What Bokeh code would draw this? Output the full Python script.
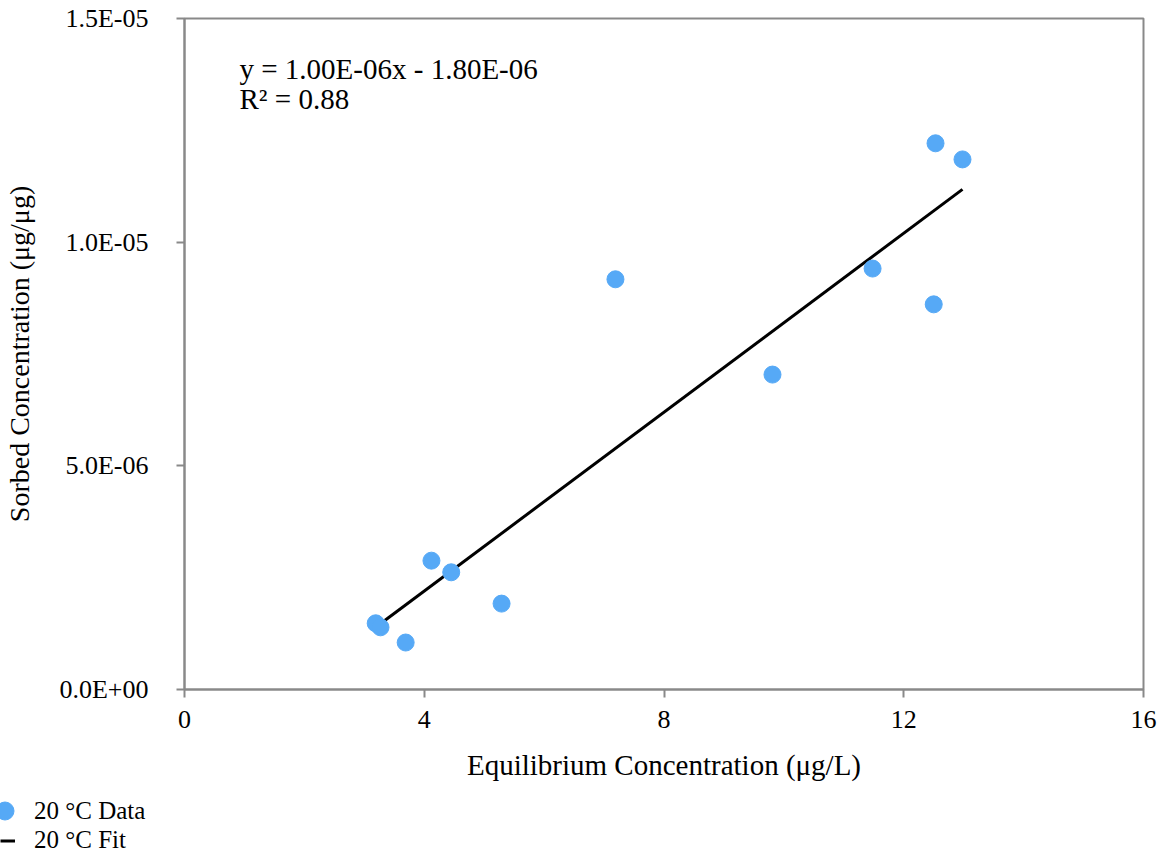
from bokeh.plotting import figure
from bokeh.layouts import column
from bokeh.models import (Range1d, FixedTicker, CustomJSTickFormatter, Legend, LegendItem, Label)
from bokeh.embed import file_html
from bokeh.resources import INLINE

# ---- data ----
eq_conc = [3.19, 3.27, 3.69, 4.12, 4.45, 5.29, 7.19, 9.81, 11.48, 12.50, 12.53, 12.98]
sorbed_conc = [1.48e-6, 1.39e-6, 1.05e-6, 2.88e-6, 2.62e-6, 1.92e-6, 9.17e-6, 7.04e-6,
               9.41e-6, 8.61e-6, 12.21e-6, 11.85e-6]
fit_slope = 1.00e-6
fit_intercept = -1.80e-6
x_ticks = [0, 4, 8, 12, 16]
y_ticks = [0.0, 5.0e-6, 1.0e-5, 1.5e-5]
y_tick_labels = ["0.0E+00", "5.0E-06", "1.0E-05", "1.5E-05"]
eq_text = "y = 1.00E-06x - 1.80E-06"
r2_text = "R\u00b2 = 0.88"
series_labels = ["20 \u00b0C Data", "20 \u00b0C Fit"]

fit_x = [min(eq_conc), max(eq_conc)]
fit_y = [fit_slope * v + fit_intercept for v in fit_x]

FONT = "Liberation Serif"
GRAY = "#898989"
BLUE = "#56A9F6"

p = figure(width=1167, height=795, x_range=Range1d(0, 16), y_range=Range1d(0, 1.5e-5),
           output_backend="svg", toolbar_location=None,
           min_border_left=184, min_border_right=24, min_border_top=18, min_border_bottom=106)
p.grid.visible = False
p.outline_line_color = GRAY
p.outline_line_width = 2
p.background_fill_color = "white"
p.border_fill_color = "white"

ln = p.line(fit_x, fit_y, line_color="black", line_width=3)
sc = p.scatter(eq_conc, sorbed_conc, size=17, fill_color=BLUE, line_color=BLUE)

for ax in (p.xaxis[0], p.yaxis[0]):
    ax.axis_line_color = GRAY
    ax.axis_line_width = 2
    ax.major_tick_line_color = GRAY
    ax.major_tick_line_width = 2
    ax.major_tick_out = 8
    ax.major_tick_in = 0
    ax.minor_tick_line_color = None
    ax.major_label_text_font = FONT
    ax.major_label_text_font_size = "26px"
    ax.major_label_text_color = "black"
    ax.axis_label_text_font = FONT
    ax.axis_label_text_font_size = "29px"
    ax.axis_label_text_font_style = "normal"
    ax.axis_label_text_color = "black"

p.xaxis.ticker = FixedTicker(ticks=x_ticks)
p.xaxis.axis_label = "Equilibrium Concentration (\u03bcg/L)"
p.xaxis.major_label_standoff = 13
p.xaxis.axis_label_standoff = 18

p.yaxis.ticker = FixedTicker(ticks=y_ticks)
p.yaxis.formatter = CustomJSTickFormatter(args=dict(vals=y_ticks, labs=y_tick_labels), code="""
let best = 0; let d = Infinity;
for (let i = 0; i < vals.length; i++) { const dd = Math.abs(vals[i] - tick); if (dd < d) { d = dd; best = i; } }
return labs[best];
""")
p.yaxis.axis_label = "Sorbed Concentration (\u03bcg/\u03bcg)"
p.yaxis.axis_label_text_font_size = "28px"
p.yaxis.major_label_standoff = 28
p.yaxis.axis_label_standoff = 21

p.add_layout(Label(x=55, y=621, x_units="screen", y_units="screen", text=eq_text,
                   text_font=FONT, text_font_size="29px", text_baseline="middle",
                   text_color="black"))
p.add_layout(Label(x=55, y=591, x_units="screen", y_units="screen", text=r2_text,
                   text_font=FONT, text_font_size="29px", text_baseline="middle",
                   text_color="black"))

# ---- legend strip below the chart ----
q = figure(width=1167, height=62, x_range=Range1d(-2, -1), y_range=Range1d(-2, -1),
           output_backend="svg", toolbar_location=None,
           min_border_left=0, min_border_right=0, min_border_top=0, min_border_bottom=0)
for fig in (p, q):
    try:
        fig.frame_align = False
    except Exception:
        pass
q.axis.visible = False
q.grid.visible = False
q.outline_line_color = None
q.border_fill_color = "white"
q.background_fill_color = "white"
lsc = q.scatter(eq_conc, sorbed_conc, size=17, fill_color=BLUE, line_color=BLUE)
lln = q.line(fit_x, fit_y, line_color="black", line_width=3)

common = dict(border_line_color=None, background_fill_alpha=0, padding=0, margin=0, spacing=0,
              label_text_font=FONT, label_text_font_size="25px", label_text_color="black")
leg_data = Legend(items=[LegendItem(label=series_labels[0], renderers=[lsc])],
                  location=(-18, 24), glyph_width=45, glyph_height=45, label_height=45,
                  label_standoff=7, **common)
leg_fit = Legend(items=[LegendItem(label=series_labels[1], renderers=[lln])],
                 location=(0, 3), glyph_width=15, glyph_height=27, label_height=27,
                 label_standoff=19, **common)
q.add_layout(leg_data, "center")
q.add_layout(leg_fit, "center")

open("out.html", "w").write(file_html(column(p, q, spacing=0), INLINE))
